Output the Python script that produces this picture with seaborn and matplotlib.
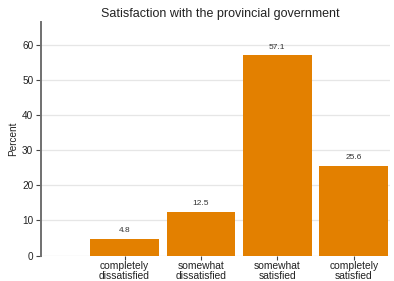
import matplotlib
matplotlib.use("Agg")
import matplotlib.pyplot as plt
import seaborn as sns
import pandas as pd

categories = ["completely\ndissatisfied", "somewhat\ndissatisfied", "somewhat\nsatisfied", "completely\nsatisfied"]
values = [4.8, 12.5, 57.1, 25.6]
yticks = [0, 10, 20, 30, 40, 50, 60]

sns.set_theme(style="white")
plt.rcParams['font.family'] = ['Liberation Sans', 'DejaVu Sans']

df = pd.DataFrame({"cat": categories, "pct": values})

fig = plt.figure(figsize=(3.94, 2.81), dpi=100)
ax = fig.add_axes([41/394, 25.5/281, 349/394, 233.5/281])

bar_color = "#E38000"
sns.barplot(data=df, x="cat", y="pct", color=bar_color, width=0.9, saturation=1,
            ax=ax, zorder=3, edgecolor="none")

for i, v in enumerate(values):
    ax.text(i, v + 1.3, f"{v:.1f}", ha="center", va="bottom", fontsize=6, color="#333333")

ax.set_xlim(-1.094, 3.474)
ax.set_ylim(0, 66.6)
ax.set_yticks(yticks)
ax.set_yticklabels([str(t) for t in yticks])
ax.yaxis.grid(True, color="#E6E6E6", linewidth=0.9, zorder=0)
ax.xaxis.grid(False)

for s in ["top", "right", "bottom"]:
    ax.spines[s].set_visible(False)
ax.spines["left"].set_color("#707070")
ax.spines["left"].set_linewidth(1.4)

ax.tick_params(axis="y", which="both", left=True, length=3.5, width=0.8, color="#444444",
               labelsize=7.2, labelcolor="#222222", pad=2)
ax.tick_params(axis="x", which="both", bottom=True, length=3.0, width=0.8, color="#444444",
               labelsize=7.4, labelcolor="#222222", pad=0.8)
for lab in ax.get_xticklabels():
    lab.set_linespacing(1.0)

ax.set_xlabel("")
ax.set_ylabel("Percent", fontsize=7.2, color="#222222", labelpad=3)
ax.set_title("Satisfaction with the provincial government", fontsize=9, color="#222222",
             pad=3.8, x=0.515)

fig.savefig("out.png", dpi=100)
